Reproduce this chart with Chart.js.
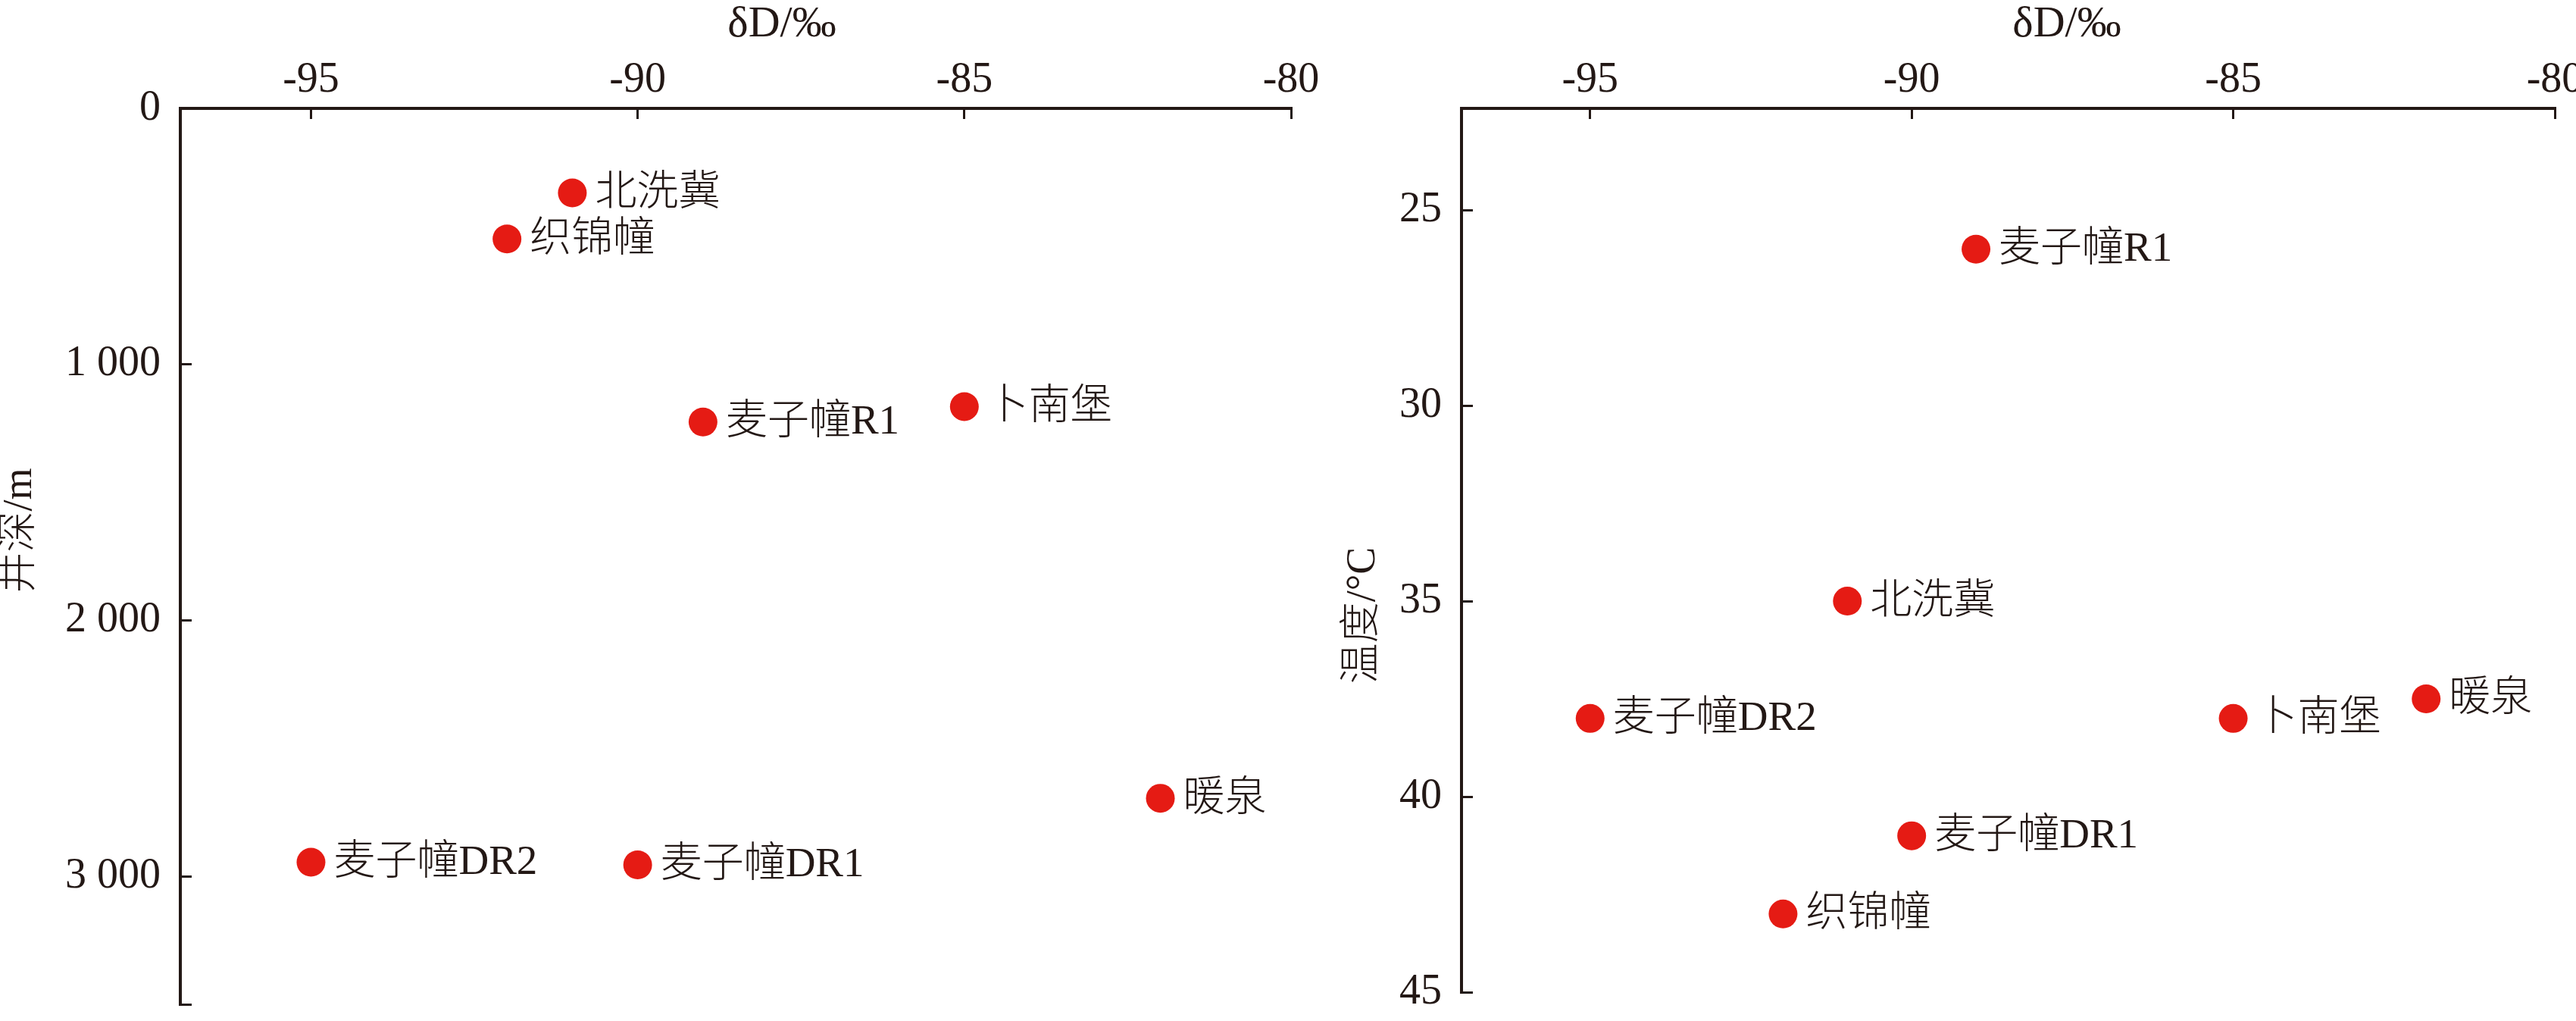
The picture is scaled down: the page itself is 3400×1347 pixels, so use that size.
<!DOCTYPE html>
<html><head><meta charset="utf-8">
<script src="https://cdn.jsdelivr.net/npm/chart.js@4.4.0/dist/chart.umd.min.js"></script>
<style>
html,body{margin:0;padding:0;background:#fff;overflow:hidden;width:3400px;height:1347px;position:relative;}
#c1{position:absolute;left:0;top:0;width:1750px;height:1347px;}
#c2{position:absolute;left:1750px;top:0;width:1700px;height:1347px;}
</style></head><body>
<div id="c1"><canvas id="a"></canvas></div>
<div id="c2"><canvas id="b"></canvas></div>
<script>
// ---- data ----
const depthSites = ['北洗冀','织锦幢','麦子幢R1','卜南堡','暖泉','麦子幢DR2','麦子幢DR1'];
const depthDD    = [-91, -92, -89, -85, -82, -95, -90];
const depthVal   = [330, 510, 1225, 1165, 2695, 2945, 2955];

const tempSites  = ['麦子幢R1','北洗冀','麦子幢DR2','卜南堡','暖泉','麦子幢DR1','织锦幢'];
const tempDD     = [-89, -91, -95, -85, -82, -90, -92];
const tempVal    = [26, 35, 38, 38, 37.5, 41, 43];

const dDTicks         = [-95, -90, -85, -80];
const dDTickLabels    = ['-95', '-90', '-85', '-80'];
const depthTicks      = [0, 1000, 2000, 3000, 3500];
const depthTickLabels = ['0', '1 000', '2 000', '3 000', ''];
const tempTicks       = [25, 30, 35, 40, 45];
const tempTickLabels  = ['25', '30', '35', '40', '45'];

const xTitleText = 'δD/‰';
const depthTitle = '井深/m';
const tempTitle  = '温度/°C';

// ---- style ----
const INK = '#231815';
const RED = '#e51b14';
const SERIF = "'Liberation Serif', 'Noto Sans CJK SC', serif";
const LABEL_FONT = "300 55px 'Liberation Serif', 'Noto Sans CJK SC', serif";

const annotate = {
  id: 'annotate',
  afterDatasetsDraw(chart, args, opts) {
    const ctx = chart.ctx;
    const meta = chart.getDatasetMeta(0);
    ctx.save();
    ctx.fillStyle = INK;
    ctx.font = LABEL_FONT;
    ctx.textAlign = 'left';
    ctx.textBaseline = 'middle';
    meta.data.forEach((pt, i) => {
      ctx.fillText(opts.names[i], pt.x + 30, pt.y + 1);
    });
    // x title
    const ca = chart.chartArea;
    ctx.textAlign = 'center';
    ctx.font = "58px " + SERIF;
    ctx.fillText(xTitleText, ca.left + opts.xTitleFrac * (ca.right - ca.left), 33);
    // y title
    ctx.font = "300 54px " + SERIF;
    ctx.translate(opts.yTitleX, opts.yTitleY);
    ctx.rotate(-Math.PI / 2);
    ctx.fillText(opts.yTitle, 0, 0);
    ctx.restore();
  }
};

function makeChart(id, names, xs, ys, yMin, yMax, yTicks, yLabels, yWidth, padRight, padBottom, yTitle, yTitleX, yTitleY, xTitleFrac) {
  const pts = xs.map((x, i) => ({x: x, y: ys[i]}));
  return new Chart(document.getElementById(id), {
    type: 'scatter',
    data: { datasets: [{ data: pts, backgroundColor: RED, borderWidth: 0, pointRadius: 19, pointHoverRadius: 19 }] },
    options: {
      responsive: true, maintainAspectRatio: false, animation: false, events: [],
      layout: { padding: { left: 0, top: 0, right: padRight, bottom: padBottom } },
      plugins: { legend: { display: false }, tooltip: { enabled: false },
        annotate: { names: names, yTitle: yTitle, yTitleX: yTitleX, yTitleY: yTitleY, xTitleFrac: xTitleFrac } },
      scales: {
        x: {
          type: 'linear', position: 'top', min: -97, max: -80,
          afterBuildTicks: s => { s.ticks = dDTicks.map(v => ({value: v})); },
          afterFit: s => { s.height = 143; s.paddingLeft = 0; s.paddingRight = 0; s.paddingTop = 0; s.paddingBottom = 0; },
          ticks: { autoSkip: false, maxRotation: 0, padding: 17, color: INK,
                   font: { family: SERIF, size: 56 }, callback: (v, i) => dDTickLabels[i] },
          grid: { display: true, drawOnChartArea: false, drawTicks: true, tickLength: -14, lineWidth: 3, color: INK },
          border: { display: true, width: 4, color: INK }
        },
        y: {
          type: 'linear', position: 'left', reverse: true, min: yMin, max: yMax,
          afterBuildTicks: s => { s.ticks = yTicks.map(v => ({value: v})); },
          afterFit: s => { s.width = yWidth; s.paddingLeft = 0; s.paddingRight = 0; s.paddingTop = 0; s.paddingBottom = 0; },
          ticks: { autoSkip: false, padding: 41, color: INK,
                   font: { family: SERIF, size: 56 }, callback: (v, i) => yLabels[i] },
          grid: { display: true, drawOnChartArea: false, drawTicks: true, tickLength: -15, lineWidth: 3, color: INK },
          border: { display: true, width: 4, color: INK }
        }
      }
    },
    plugins: [annotate]
  });
}

makeChart('a', depthSites, depthDD, depthVal, 0, 3500, depthTicks, depthTickLabels,
          238, 46, 22, depthTitle, 27, 700, 0.5416);
makeChart('b', tempSites, tempDD, tempVal, 22.4, 45, tempTicks, tempTickLabels,
          179, 78, 38, tempTitle, 50, 812, 0.5537);
</script>
</body></html>
